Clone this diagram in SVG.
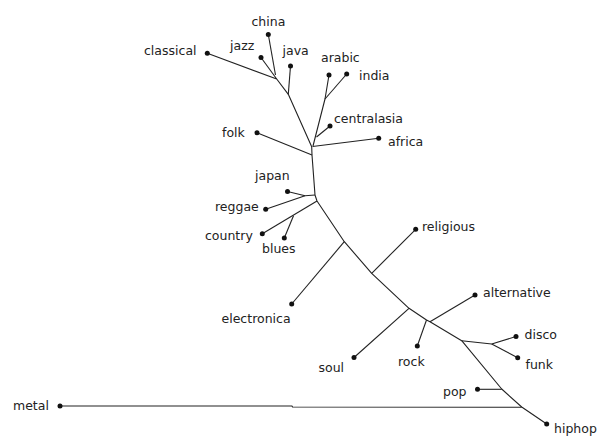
<svg xmlns="http://www.w3.org/2000/svg" width="603" height="438" viewBox="0 0 603 438">
<style>
.e{fill:none;stroke:#222;stroke-width:1.1;stroke-linejoin:round}
.d{fill:#111}
text{font-family:"DejaVu Sans","Liberation Sans",sans-serif;font-size:12.5px;fill:#222}
</style>
<rect width="603" height="438" fill="#fff"/>
<g id="connectors">
<polyline class="e" points="276.7,79 288.3,94.3 311.7,146.7 312,155 315,195 317,201 344.3,241.7 371.7,273.3 409,308.3 426.5,320 430,321.7 461.7,340.7 501.7,389 521.7,407 546.7,424"/>
<line class="e" x1="268.3" y1="34.5" x2="275.5" y2="75"/>
<line class="e" x1="261" y1="57.5" x2="276.7" y2="79"/>
<line class="e" x1="207.3" y1="53.3" x2="276.7" y2="79"/>
<line class="e" x1="290.5" y1="66" x2="288.3" y2="94.3"/>
<polyline class="e" points="329,75 325,99 313,146"/>
<line class="e" x1="346.7" y1="74" x2="325" y2="99"/>
<line class="e" x1="330" y1="126" x2="316.5" y2="137"/>
<line class="e" x1="257" y1="132.7" x2="312" y2="155"/>
<line class="e" x1="378.7" y1="138.3" x2="312.5" y2="146.5"/>
<polyline class="e" points="287.5,191.5 305,195.7 315,195"/>
<line class="e" x1="265.7" y1="209.3" x2="305" y2="195.7"/>
<line class="e" x1="262.3" y1="233.7" x2="317" y2="201"/>
<line class="e" x1="284.3" y1="238" x2="293.5" y2="215.8"/>
<line class="e" x1="291.7" y1="304" x2="344.3" y2="241.7"/>
<line class="e" x1="415.7" y1="229.3" x2="371.7" y2="273.3"/>
<line class="e" x1="354" y1="357.5" x2="409" y2="308.3"/>
<line class="e" x1="417.3" y1="346" x2="426.5" y2="320"/>
<line class="e" x1="475" y1="295" x2="430" y2="321.7"/>
<polyline class="e" points="461.7,340.7 491.7,344 516,336.5"/>
<line class="e" x1="491.7" y1="344" x2="517.7" y2="357.7"/>
<line class="e" x1="477.5" y1="389.3" x2="501.7" y2="389.3"/>
<polyline class="e" points="60,406 292,406 292.5,407 521.7,407.3"/>
</g>
<g id="china"><circle class="d" cx="268.3" cy="34.5" r="2.5"/><text x="251.5" y="26">china</text></g>
<g id="jazz"><circle class="d" cx="261" cy="57.5" r="2.5"/><text x="230" y="50">jazz</text></g>
<g id="classical"><circle class="d" cx="207.3" cy="53.3" r="2.5"/><text x="144" y="55">classical</text></g>
<g id="java"><circle class="d" cx="290.5" cy="66" r="2.5"/><text x="282.5" y="55">java</text></g>
<g id="arabic"><circle class="d" cx="329" cy="75" r="2.5"/><text x="321" y="62">arabic</text></g>
<g id="india"><circle class="d" cx="346.7" cy="74" r="2.5"/><text x="359" y="80">india</text></g>
<g id="centralasia"><circle class="d" cx="330" cy="126" r="2.5"/><text x="334" y="123">centralasia</text></g>
<g id="folk"><circle class="d" cx="257" cy="132.7" r="2.5"/><text x="222" y="137">folk</text></g>
<g id="africa"><circle class="d" cx="378.7" cy="138.3" r="2.5"/><text x="388" y="146">africa</text></g>
<g id="japan"><circle class="d" cx="287.5" cy="191.5" r="2.5"/><text x="255" y="180">japan</text></g>
<g id="reggae"><circle class="d" cx="265.7" cy="209.3" r="2.5"/><text x="215" y="210.5">reggae</text></g>
<g id="country"><circle class="d" cx="262.3" cy="233.7" r="2.5"/><text x="205" y="240">country</text></g>
<g id="blues"><circle class="d" cx="284.3" cy="238" r="2.5"/><text x="262" y="253">blues</text></g>
<g id="electronica"><circle class="d" cx="291.7" cy="304" r="2.5"/><text x="221.5" y="323">electronica</text></g>
<g id="religious"><circle class="d" cx="415.7" cy="229.3" r="2.5"/><text x="422" y="231">religious</text></g>
<g id="soul"><circle class="d" cx="354" cy="357.5" r="2.5"/><text x="318.5" y="372">soul</text></g>
<g id="rock"><circle class="d" cx="417.3" cy="346" r="2.5"/><text x="398" y="366">rock</text></g>
<g id="alternative"><circle class="d" cx="475" cy="295" r="2.5"/><text x="483" y="297">alternative</text></g>
<g id="disco"><circle class="d" cx="516" cy="336.5" r="2.5"/><text x="524.5" y="339">disco</text></g>
<g id="funk"><circle class="d" cx="517.7" cy="357.7" r="2.5"/><text x="525.5" y="369">funk</text></g>
<g id="pop"><circle class="d" cx="477.5" cy="389.3" r="2.5"/><text x="443" y="396">pop</text></g>
<g id="metal"><circle class="d" cx="60" cy="406" r="2.5"/><text x="13" y="410">metal</text></g>
<g id="hiphop"><circle class="d" cx="546.7" cy="424" r="2.5"/><text x="554" y="433">hiphop</text></g>
</svg>
